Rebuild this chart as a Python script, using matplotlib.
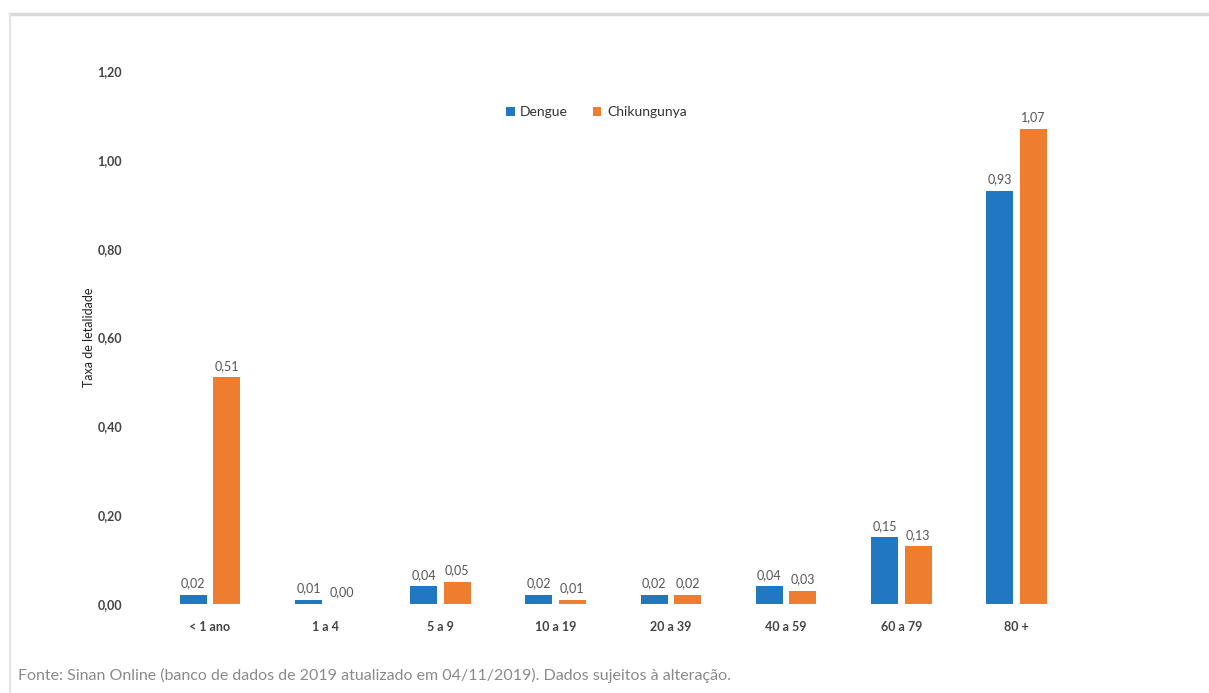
import matplotlib.pyplot as plt
import numpy as np

faixas = ["< 1 ano", "1 a 4", "5 a 9", "10 a 19", "20 a 39", "40 a 59", "60 a 79", "80 +"]
dengue = [0.02, 0.01, 0.04, 0.02, 0.02, 0.04, 0.15, 0.93]
chikungunya = [0.51, 0.00, 0.05, 0.01, 0.02, 0.03, 0.13, 1.07]
yticks = [0.0, 0.2, 0.4, 0.6, 0.8, 1.0, 1.2]

azul = "#1f78c1"
laranja = "#ee7d2f"
plt.rcParams["font.family"] = ["Lato", "DejaVu Sans"]


def virgula(v):
    return f"{v:.2f}".replace(".", ",")


fig = plt.figure(figsize=(12.09, 6.93), dpi=100)
ax = fig.add_axes([150 / 1209, 1 - 604 / 693, 930 / 1209, 533 / 693])

x = np.arange(len(faixas))
w = 0.235
off = 0.145
b1 = ax.bar(x - off, dengue, w, color=azul, label="Dengue")
b2 = ax.bar(x + off, chikungunya, w, color=laranja, label="Chikungunya")

# rotulos de valor acima das barras
for bars, vals in ((b1, dengue), (b2, chikungunya)):
    for rect, v in zip(bars, vals):
        ax.annotate(virgula(v), (rect.get_x() + rect.get_width() / 2, rect.get_height()),
                    xytext=(0, 4), textcoords="offset points", ha="center", va="bottom",
                    fontsize=9, color="#555555")

ax.set_xlim(-0.52, 7.55)
ax.set_ylim(0, 1.2)
ax.set_yticks(yticks)
ax.set_yticklabels([virgula(t) for t in yticks], fontsize=9, fontweight="bold", color="#444444")
ax.set_xticks(x)
ax.set_xticklabels(faixas, fontsize=9, fontweight="bold", color="#444444")
ax.tick_params(axis="y", length=0, pad=20)
ax.tick_params(axis="x", length=0, pad=12)
for s in ax.spines.values():
    s.set_visible(False)
ax.set_ylabel("Taxa de letalidade", fontsize=9, color="#222222", labelpad=2)

ax.legend(loc="center", bbox_to_anchor=(0.48, 0.923), ncol=2, frameon=False,
          fontsize=10, handlelength=0.6, handleheight=0.6, handletextpad=0.4,
          columnspacing=1.8, labelcolor="#333333")

# moldura leve em cima e a esquerda
fig.add_artist(plt.Line2D([10 / 1209, 1], [1 - 14 / 693] * 2, color="#d9d9d9", lw=2.5))
fig.add_artist(plt.Line2D([10 / 1209] * 2, [0, 1 - 14 / 693], color="#e3e3e3", lw=1.5))

fig.text(18 / 1209, 1 - 675 / 693,
         "Fonte: Sinan Online (banco de dados de 2019 atualizado em 04/11/2019). Dados sujeitos à alteração.",
         fontsize=11.5, color="#8a8a8a", va="center")

fig.savefig("out.png", dpi=100)
